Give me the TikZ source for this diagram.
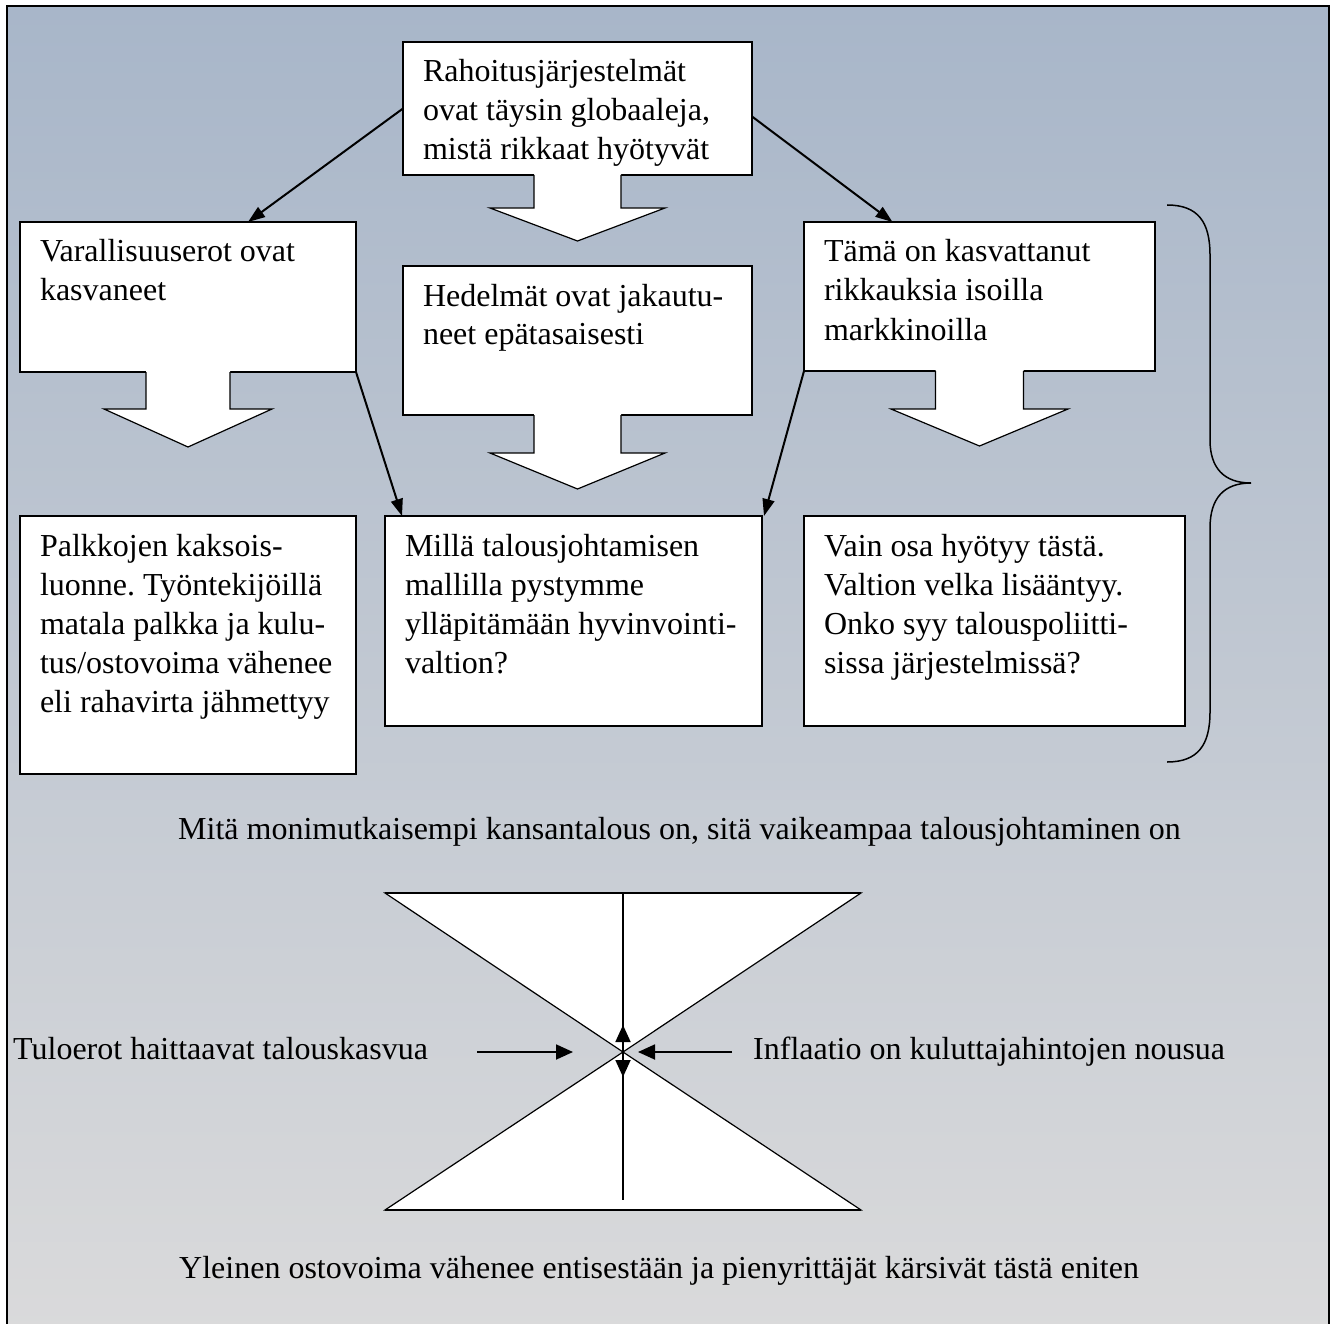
\documentclass[tikz,border=0pt]{standalone}
\usepackage{fontspec}
\setmainfont{Liberation Serif}
\usetikzlibrary{calc,arrows.meta}
\frenchspacing
\newcommand\mainfs{\fontsize{32}{39}\selectfont}
\newcommand\boxtxt[3]{\parbox[t][#2pt][t]{#1pt}{\leftskip=20pt\rightskip=0pt plus 1fil\parfillskip=0pt plus 1fil\rule{0pt}{40pt}#3}}
\newcommand\blkarrow[5]{%
  \fill[white] ($(#1.south)+(-#2,-1.2)$) -- ($(#1.south)+(-#2,#4)$) -- ($(#1.south)+(-#3,#4)$) -- ($(#1.south)+(0,#5)$) -- ($(#1.south)+(#3,#4)$) -- ($(#1.south)+(#2,#4)$) -- ($(#1.south)+(#2,-1.2)$) -- cycle;
  \draw[blk] ($(#1.south)+(-#2,0)$) -- ($(#1.south)+(-#2,#4)$) -- ($(#1.south)+(-#3,#4)$) -- ($(#1.south)+(0,#5)$) -- ($(#1.south)+(#3,#4)$) -- ($(#1.south)+(#2,#4)$) -- ($(#1.south)+(#2,0)$);}
\definecolor{bgtop}{RGB}{168,182,201}
\definecolor{bgmid}{RGB}{200,204,211}
\definecolor{bgbot}{RGB}{218,218,219}
\begin{document}
\begin{tikzpicture}[x=1pt,y=-1pt,
  txtbox/.style={draw, fill=white, line width=1.5pt, inner sep=0pt, outer sep=0pt, anchor=north west, font=\mainfs},
  blk/.style={line width=1.2pt, line join=miter},
  conn/.style={line width=2pt, -{Triangle[length=17pt,width=12pt]}},
  small/.style={line width=1.8pt, -{Triangle[length=17pt,width=15pt]}},
  lbl/.style={anchor=base west, inner sep=0pt, font=\mainfs}]
\useasboundingbox (0,0) rectangle (1333,1324);
% background frame
\shade[top color=bgtop, middle color=bgmid, bottom color=bgbot] (7,6) rectangle (1329,1334);
\draw[line width=1.5pt] (7,6) rectangle (1329,1334);

% boxes
\node[txtbox] (top) at (403,42) {\boxtxt{349}{133}{Rahoitusjärjestelmät\\ ovat täysin globaaleja,\\ mistä rikkaat hyötyvät}};
\node[txtbox] (hed) at (403,266) {\boxtxt{349}{149}{Hedelmät ovat jakautu-\\ neet epätasaisesti}};
\node[txtbox] (vara) at (20,222) {\boxtxt{336}{150}{Varallisuuserot ovat\\ kasvaneet}};
\node[txtbox] (tama) at (804,222) {\boxtxt{351}{149}{Tämä on kasvattanut\\ rikkauksia isoilla\\ markkinoilla}};
\node[txtbox] (palk) at (20,516) {\boxtxt{336}{258}{Palkkojen kaksois-\\ luonne. Työntekijöillä\\ matala palkka ja kulu-\\ tus/ostovoima vähenee\\ eli rahavirta jähmettyy}};
\node[txtbox] (milla) at (385,516) {\boxtxt{377}{210}{Millä talousjohtamisen\\ mallilla pystymme\\ ylläpitämään hyvinvointi-\\ valtion?}};
\node[txtbox] (vain) at (804,516) {\boxtxt{381}{210}{Vain osa hyötyy tästä.\\ Valtion velka lisääntyy.\\ Onko syy talouspoliitti-\\ sissa järjestelmissä?}};

% block arrows
\blkarrow{top}{43.5}{87.5}{33}{66}
\blkarrow{hed}{43.5}{87.5}{38}{74}
\blkarrow{vara}{42}{84}{37}{75}
\blkarrow{tama}{44}{88.5}{38}{75}

% connectors
\draw[conn] (top.west) -- ($(vara.north)+(60,0)$);
\draw[conn] ($(top.east)+(0,8)$) -- ($(tama.north)+(-87,0)$);
\draw[conn] (vara.south east) -- ($(milla.north west)+(17,0)$);
\draw[conn] (tama.south west) -- ($(milla.north east)+(2,0)$);

% brace
\draw[line width=1.5pt] (1167,205) .. controls (1198,205) and (1210,222) .. (1210,255) -- (1210,440) .. controls (1210,468) and (1224,483) .. (1251,483) .. controls (1224,483) and (1210,498) .. (1210,528) -- (1210,712) .. controls (1210,745) and (1198,762) .. (1167,762);

% texts
\node[lbl] (mid) at (178,839) {Mitä monimutkaisempi kansantalous on, sitä vaikeampaa talousjohtaminen on};
\node[lbl] (bot) at (179,1278) {Yleinen ostovoima vähenee entisestään ja pienyrittäjät kärsivät tästä eniten};
\node[lbl] (tulo) at (13,1059) {Tuloerot haittaavat talouskasvua};
\node[lbl] (infl) at (753,1059) {Inflaatio on kuluttajahintojen nousua};

% hourglass
\coordinate (X) at (623,1052);
\coordinate (TL) at (385,893);
\coordinate (TR) at (861,893);
\coordinate (BL) at (385,1210);
\coordinate (BR) at (861,1210);
\filldraw[fill=white, line width=1.2pt, line join=miter] (TL) -- (TR) -- (X) -- cycle;
\filldraw[fill=white, line width=1.2pt, line join=miter] (BL) -- (BR) -- (X) -- cycle;
\draw[line width=2pt] (TL) -- (TR);
\draw[line width=2pt] (BL) -- (BR);
\draw[line width=1.8pt] ($(X)+(0,-159)$) -- ($(X)+(0,148)$);
\draw[small] (X) -- ++(0,-27);
\draw[small] (X) -- ++(0,25);
\draw[small] ($(X)+(-146,0)$) -- ($(X)+(-50,0)$);
\draw[small] ($(X)+(109,0)$) -- ($(X)+(15,0)$);
\end{tikzpicture}
\end{document}
